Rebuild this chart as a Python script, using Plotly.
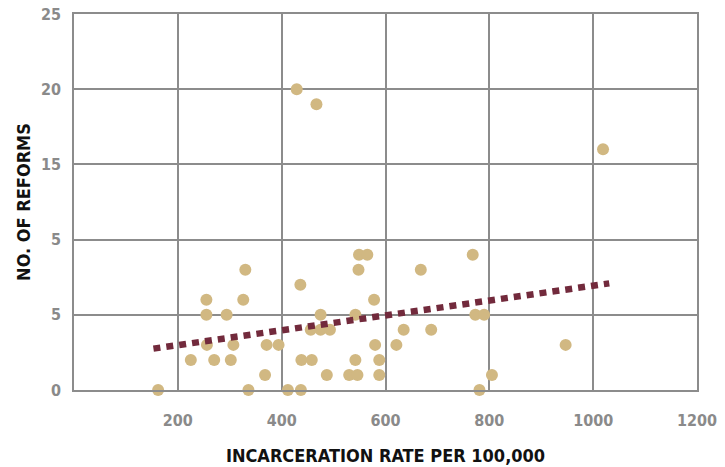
import plotly.graph_objects as go

# Scatter data: incarceration rate per 100,000 vs number of reforms
incarceration_rate = [429, 467, 1019, 549, 565, 768, 330, 548, 668, 436,
                      255, 326, 578, 255, 294, 475, 542, 773, 790, 456,
                      475, 493, 635, 688, 256, 307, 371, 394, 580, 621,
                      947, 225, 270, 302, 438, 458, 542, 588, 368, 487,
                      530, 546, 588, 805, 162, 336, 412, 437, 781]
num_reforms = [20, 19, 16, 9, 9, 9, 8, 8, 8, 7,
               6, 6, 6, 5, 5, 5, 5, 5, 5, 4,
               4, 4, 4, 4, 3, 3, 3, 3, 3, 3,
               3, 2, 2, 2, 2, 2, 2, 2, 1, 1,
               1, 1, 1, 1, 0, 0, 0, 0, 0]

# Trend line end points
trend_x = [153, 1031]
trend_y = [2.75, 7.09]

x_tick_vals = [200, 400, 600, 800, 1000, 1200]
x_tick_text = ["200", "400", "600", "800", "1000", "1200"]
y_tick_vals = [0, 5, 10, 15, 20, 25]
y_tick_text = ["0", "5", "5", "15", "20", "25"]

FONT = "DejaVu Sans Condensed, sans-serif"
GRID = "#8c8c8c"

fig = go.Figure()
fig.add_trace(go.Scatter(
    x=incarceration_rate, y=num_reforms, mode="markers",
    marker=dict(size=12, color="#d1b882", line=dict(width=0)),
    showlegend=False, cliponaxis=False,
))
fig.add_trace(go.Scatter(
    x=trend_x, y=trend_y, mode="lines",
    line=dict(color="#722a3c", width=6.5, dash="7px,6px"),
    showlegend=False,
))

fig.update_layout(
    width=725, height=467,
    margin=dict(l=74, r=28, t=14, b=77, autoexpand=False),
    paper_bgcolor="white", plot_bgcolor="white",
    font=dict(family=FONT),
)
fig.update_xaxes(
    automargin=False,
    range=[0, 1200], tickvals=x_tick_vals, ticktext=x_tick_text,
    showgrid=True, gridcolor=GRID, gridwidth=1.5,
    showline=True, linecolor=GRID, linewidth=1.5, mirror=True,
    zeroline=False,
    ticks="outside", ticklen=15, tickcolor="rgba(0,0,0,0)",
    tickfont=dict(family=FONT, size=16, color="#8a8a8a", weight="bold"),
    title=dict(text="INCARCERATION RATE PER 100,000",
               font=dict(family=FONT, size=18, color="#111111", weight="bold"),
               standoff=20),
)
fig.update_yaxes(
    automargin=False,
    range=[0, 25], tickvals=y_tick_vals, ticktext=y_tick_text,
    showgrid=True, gridcolor=GRID, gridwidth=1.5,
    showline=True, linecolor=GRID, linewidth=1.5, mirror=True,
    zeroline=False,
    ticks="outside", ticklen=8, tickcolor="rgba(0,0,0,0)",
    tickfont=dict(family=FONT, size=16, color="#8a8a8a", weight="bold"),
    title=dict(text="NO. OF REFORMS",
               font=dict(family=FONT, size=18, color="#111111", weight="bold"),
               standoff=6),
)

fig.write_html("out.html", config={"displayModeBar": False},
               post_script="document.body.style.margin='0';")
